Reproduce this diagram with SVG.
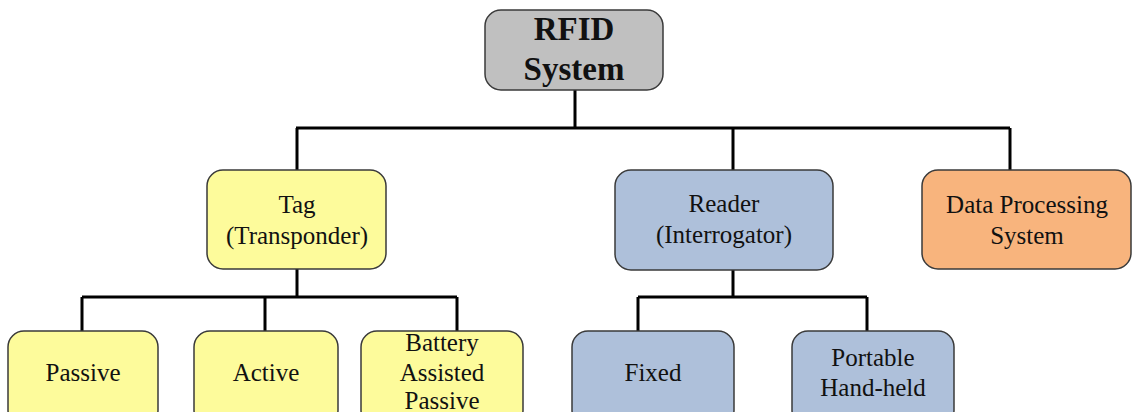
<svg xmlns="http://www.w3.org/2000/svg" width="1133" height="412" viewBox="0 0 1133 412">
<style>
.box{stroke:#3a3a3a;stroke-width:1.5}
.root{fill:#c0c0c0}
.yel{fill:#fdfb9b}
.blu{fill:#aec0da}
.org{fill:#f8b47d}
.t{font-family:"Liberation Serif","Times New Roman",serif;font-size:25px;fill:#111;text-anchor:middle}
.tb{font-family:"Liberation Serif","Times New Roman",serif;font-size:33px;font-weight:bold;fill:#111;text-anchor:middle}
.c{stroke:#000;stroke-width:3;fill:none}
</style>
<rect width="1133" height="412" fill="#fff"/>
<g id="connectors">
<path class="c" d="M575 90V128M296 128H1010M297 128V170M733 128V170M1010 128V170"/>
<path class="c" d="M297 269V297M82 297H457M82 297V331M265 297V331M457 297V331"/>
<path class="c" d="M733 270V297M638 297H867M638 297V331M867 297V331"/>
</g>
<g id="rfid"><rect class="box root" x="485" y="10" width="178" height="80" rx="16"/>
<text class="tb" x="574" y="40">RFID</text><text class="tb" x="574" y="80">System</text></g>
<g id="tag"><rect class="box yel" x="207" y="170" width="179" height="99" rx="16"/>
<text class="t" x="297" y="213">Tag</text><text class="t" x="297" y="244">(Transponder)</text></g>
<g id="reader"><rect class="box blu" x="615" y="170" width="218" height="100" rx="16"/>
<text class="t" x="724" y="212">Reader</text><text class="t" x="724" y="243">(Interrogator)</text></g>
<g id="data"><rect class="box org" x="922" y="170" width="209" height="99" rx="16"/>
<text class="t" x="1027" y="213">Data Processing</text><text class="t" x="1027" y="244">System</text></g>
<g id="passive"><rect class="box yel" x="8" y="331" width="150" height="95" rx="16"/>
<text class="t" x="83" y="381">Passive</text></g>
<g id="active"><rect class="box yel" x="194" y="331" width="144" height="95" rx="16"/>
<text class="t" x="266" y="381">Active</text></g>
<g id="battery"><rect class="box yel" x="361" y="331" width="162" height="95" rx="16"/>
<text class="t" x="442" y="351">Battery</text><text class="t" x="442" y="381">Assisted</text><text class="t" x="442" y="409">Passive</text></g>
<g id="fixed"><rect class="box blu" x="572" y="331" width="162" height="95" rx="16"/>
<text class="t" x="653" y="381">Fixed</text></g>
<g id="portable"><rect class="box blu" x="792" y="331" width="162" height="95" rx="16"/>
<text class="t" x="873" y="366">Portable</text><text class="t" x="873" y="396">Hand-held</text></g>
</svg>
